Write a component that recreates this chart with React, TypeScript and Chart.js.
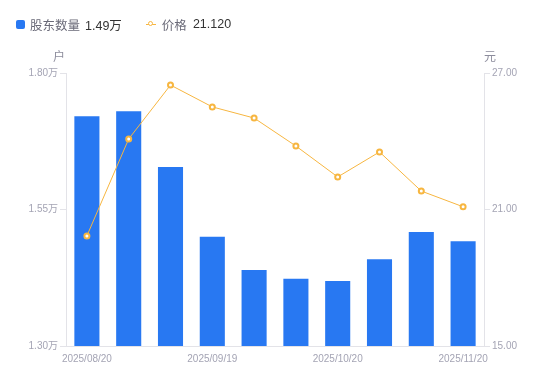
import React, { useEffect, useRef } from "react";
import { Chart, registerables } from "chart.js";

Chart.register(...registerables);

const dates = ["2025/08/20", "2025/08/31", "2025/09/10", "2025/09/19", "2025/09/30", "2025/10/10", "2025/10/20", "2025/10/31", "2025/11/10", "2025/11/20"];
const holders = [1.721, 1.73, 1.628, 1.5, 1.439, 1.423, 1.419, 1.459, 1.509, 1.492];
const prices = [19.84, 24.1, 26.47, 25.51, 25.02, 23.79, 22.43, 23.53, 21.81, 21.12];
const holderTicks = [1.3, 1.55, 1.8];
const priceTicks = [15, 21, 27];

const FONT = "'Liberation Sans', 'Noto Sans CJK SC', Arial, sans-serif";
const BLUE = "#2878f2";
const ORANGE = "#f7b640";
const AXIS = "#e3e3e8";
const TICK = "#a4a4b4";

const unitPlugin = {
  id: "units",
  afterDraw(chart: any) {
    const { ctx, chartArea } = chart;
    ctx.save();
    ctx.font = `12px ${FONT}`;
    ctx.fillStyle = "#8c8c9c";
    ctx.textAlign = "center";
    ctx.textBaseline = "middle";
    ctx.fillText("户", chartArea.left - 7, chartArea.top - 15);
    ctx.fillText("元", chartArea.right + 6, chartArea.top - 15);
    ctx.restore();
  },
};

export default function App() {
  const ref = useRef<HTMLCanvasElement | null>(null);
  useEffect(() => {
    const c = new Chart(ref.current!, {
      type: "bar",
      data: {
        labels: dates,
        datasets: [
          {
            type: "line",
            label: "价格",
            data: prices,
            yAxisID: "y1",
            borderColor: ORANGE,
            borderWidth: 1,
            pointRadius: 2.5,
            pointBorderWidth: 2,
            pointBackgroundColor: "#fff",
            pointBorderColor: ORANGE,
            tension: 0,
            order: 0,
          } as any,
          {
            type: "bar",
            label: "股东数量",
            data: holders,
            yAxisID: "y",
            backgroundColor: BLUE,
            barPercentage: 0.6,
            categoryPercentage: 1,
            order: 1,
          },
        ],
      },
      options: {
        animation: false,
        responsive: false,
        layout: { padding: { top: 73, left: 0, right: 0, bottom: 0 } },
        plugins: { legend: { display: false }, tooltip: { enabled: false } },
        scales: {
          x: {
            grid: { display: false, drawTicks: false },
            border: { display: true, color: AXIS },
            afterFit(s: any) { s.height = 35; },
            ticks: {
              autoSkip: false,
              maxRotation: 0,
              padding: 7,
              color: TICK,
              font: { size: 10, family: FONT },
              callback: (_v: any, i: number) => (i % 3 === 0 ? dates[i] : ""),
            },
          },
          y: {
            position: "left",
            min: 1.3,
            max: 1.8,
            afterFit(s: any) { s.width = 66; },
            afterBuildTicks(s: any) { s.ticks = holderTicks.map((v) => ({ value: v })); },
            grid: { drawOnChartArea: false, drawTicks: true, tickLength: 6, color: AXIS },
            border: { color: AXIS },
            ticks: {
              padding: 2,
              color: TICK,
              font: { size: 10, family: FONT },
              callback: (v: any) => Number(v).toFixed(2) + "万",
            },
          },
          y1: {
            position: "right",
            min: 15,
            max: 27,
            afterFit(s: any) { s.width = 66; },
            afterBuildTicks(s: any) { s.ticks = priceTicks.map((v) => ({ value: v })); },
            grid: { drawOnChartArea: false, drawTicks: true, tickLength: 6, color: AXIS },
            border: { color: AXIS },
            ticks: {
              padding: 2,
              color: TICK,
              font: { size: 10, family: FONT },
              callback: (v: any) => Number(v).toFixed(2),
            },
          },
        },
      },
      plugins: [unitPlugin],
    });
    return () => c.destroy();
  }, []);

  return (
    <div style={{ position: "fixed", left: 0, top: 0, width: 550, height: 381, background: "#fff", fontFamily: FONT }}>
      <canvas ref={ref} width={550} height={381} style={{ position: "absolute", left: 0, top: 0 }} />
      <div style={{ position: "absolute", left: 16, top: 15, height: 18, display: "flex", alignItems: "center", fontSize: 12.5, whiteSpace: "nowrap" }}>
        <span style={{ display: "inline-block", width: 9, height: 9, borderRadius: 2, background: BLUE, marginRight: 5 }} />
        <span style={{ color: "#6a6a78", marginRight: 5 }}>股东数量</span>
        <span style={{ color: "#333" }}>1.49万</span>
        <span style={{ display: "inline-block", position: "relative", width: 10, height: 9, marginLeft: 24, marginRight: 6 }}>
          <span style={{ position: "absolute", left: 0, top: 4, width: 10, height: 1, background: ORANGE }} />
          <span style={{ position: "absolute", left: 2, top: 1.5, width: 3, height: 3, borderRadius: "50%", border: `1.5px solid ${ORANGE}`, background: "#fff" }} />
        </span>
        <span style={{ color: "#6a6a78", marginRight: 6 }}>价格</span>
        <span style={{ color: "#333" }}>21.120</span>
      </div>
    </div>
  );
}
